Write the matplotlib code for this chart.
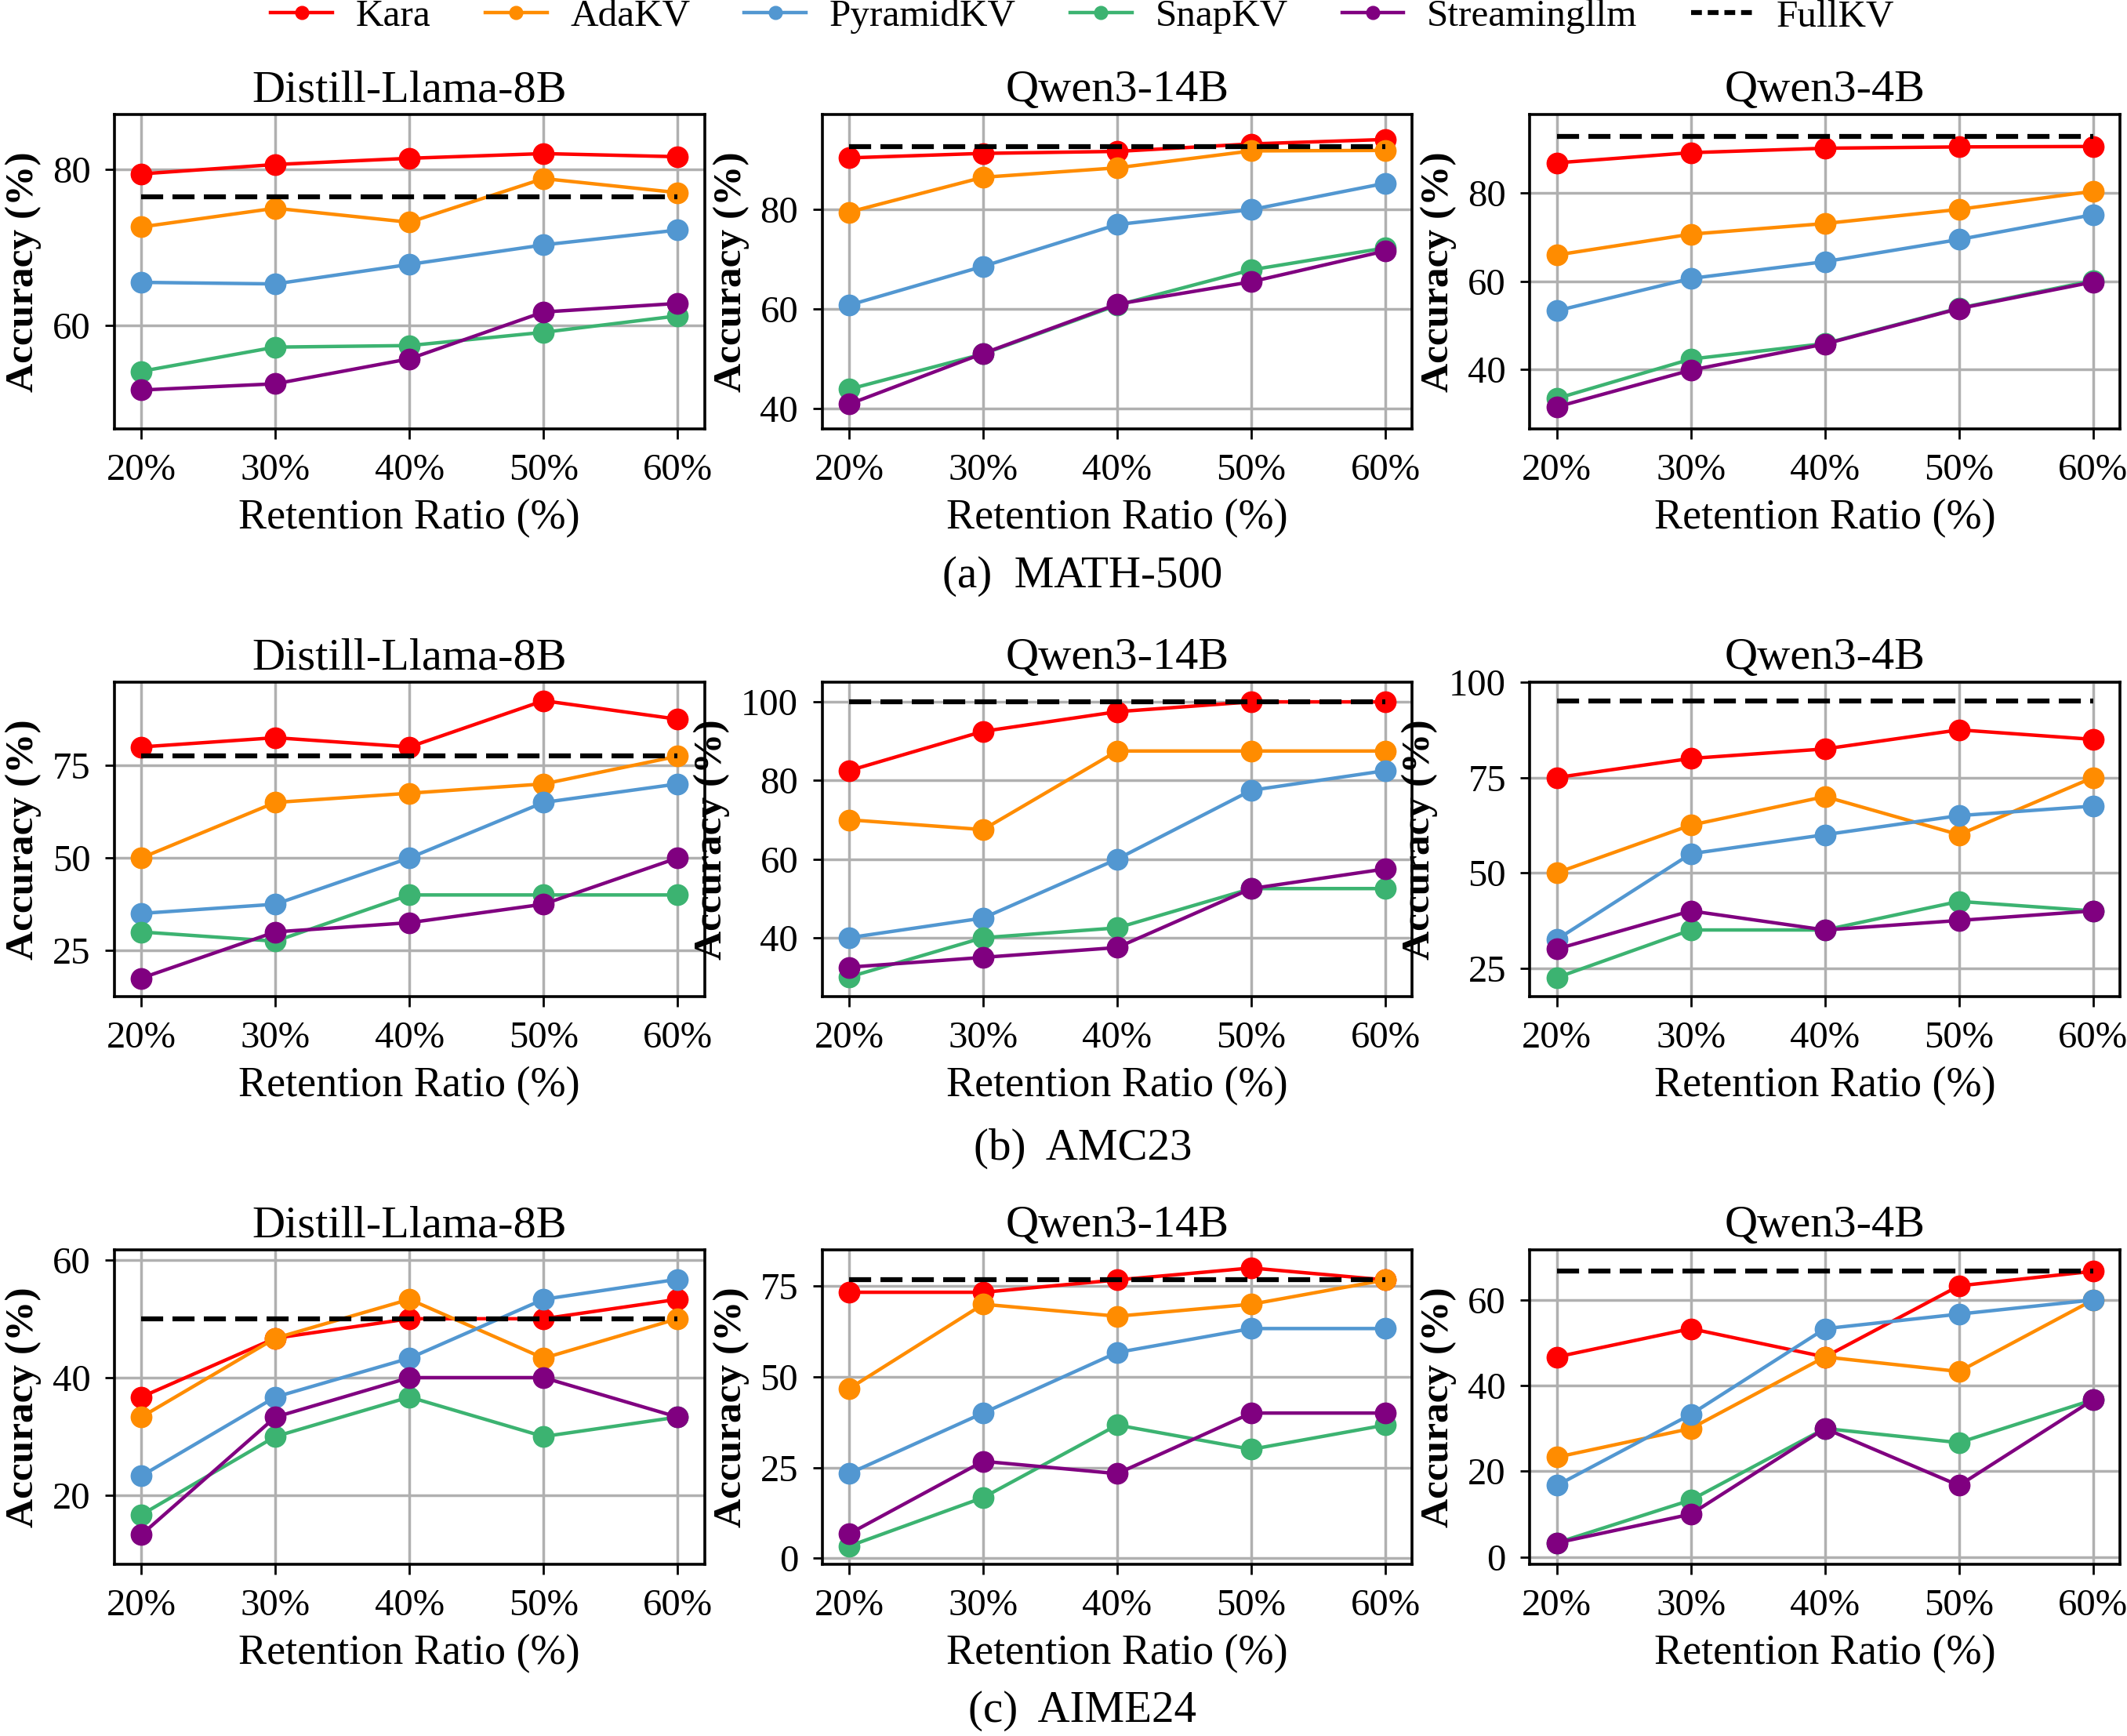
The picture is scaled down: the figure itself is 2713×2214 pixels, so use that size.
import matplotlib
matplotlib.use("Agg")
import matplotlib.pyplot as plt
from matplotlib.lines import Line2D

plt.rcParams['font.family'] = ['Liberation Serif', 'DejaVu Serif']

# ---------------- data ----------------
ratios = [20, 30, 40, 50, 60]
ratio_labels = ["20%", "30%", "40%", "50%", "60%"]
models = ["Distill-Llama-8B", "Qwen3-14B", "Qwen3-4B"]
benchmarks = ["(a)  MATH-500", "(b)  AMC23", "(c)  AIME24"]
methods = ["Kara", "AdaKV", "PyramidKV", "SnapKV", "Streamingllm"]
colors = ["#ff0000", "#ff8c00", "#5297d1", "#3cb371", "#800080"]

# MATH-500
math_llama8b = {
    "Kara":         [79.4, 80.6, 81.4, 82.0, 81.6],
    "AdaKV":        [72.6, 75.0, 73.2, 78.8, 77.0],
    "PyramidKV":    [65.5, 65.3, 67.8, 70.3, 72.2],
    "SnapKV":       [54.1, 57.2, 57.4, 59.1, 61.2],
    "Streamingllm": [51.7, 52.5, 55.7, 61.7, 62.8],
}
math_llama8b_full = 76.5
math_qwen14b = {
    "Kara":         [90.4, 91.3, 91.7, 93.2, 94.1],
    "AdaKV":        [79.5, 86.5, 88.4, 91.8, 91.9],
    "PyramidKV":    [60.8, 68.6, 77.0, 80.0, 85.3],
    "SnapKV":       [43.9, 51.0, 60.8, 67.9, 72.3],
    "Streamingllm": [40.9, 51.1, 61.0, 65.5, 71.7],
}
math_qwen14b_full = 92.6
math_qwen4b = {
    "Kara":         [86.7, 89.0, 90.0, 90.3, 90.4],
    "AdaKV":        [65.9, 70.6, 73.0, 76.2, 80.3],
    "PyramidKV":    [53.3, 60.6, 64.4, 69.4, 75.0],
    "SnapKV":       [33.5, 42.4, 45.9, 53.9, 60.1],
    "Streamingllm": [31.6, 39.9, 45.8, 53.8, 59.8],
}
math_qwen4b_full = 92.6

# AMC23
amc_llama8b = {
    "Kara":         [80.0, 82.5, 80.0, 92.5, 87.5],
    "AdaKV":        [50.0, 65.0, 67.5, 70.0, 77.5],
    "PyramidKV":    [35.0, 37.5, 50.0, 65.0, 70.0],
    "SnapKV":       [30.0, 27.5, 40.0, 40.0, 40.0],
    "Streamingllm": [17.5, 30.0, 32.5, 37.5, 50.0],
}
amc_llama8b_full = 77.5
amc_qwen14b = {
    "Kara":         [82.5, 92.5, 97.5, 100.0, 100.0],
    "AdaKV":        [70.0, 67.5, 87.5, 87.5, 87.5],
    "PyramidKV":    [40.0, 45.0, 60.0, 77.5, 82.5],
    "SnapKV":       [30.0, 40.0, 42.5, 52.5, 52.5],
    "Streamingllm": [32.5, 35.0, 37.5, 52.5, 57.5],
}
amc_qwen14b_full = 100.0
amc_qwen4b = {
    "Kara":         [75.0, 80.0, 82.5, 87.5, 85.0],
    "AdaKV":        [50.0, 62.5, 70.0, 60.0, 75.0],
    "PyramidKV":    [32.5, 55.0, 60.0, 65.0, 67.5],
    "SnapKV":       [22.5, 35.0, 35.0, 42.5, 40.0],
    "Streamingllm": [30.0, 40.0, 35.0, 37.5, 40.0],
}
amc_qwen4b_full = 95.0

# AIME24
aime_llama8b = {
    "Kara":         [36.7, 46.7, 50.0, 50.0, 53.3],
    "AdaKV":        [33.3, 46.7, 53.3, 43.3, 50.0],
    "PyramidKV":    [23.3, 36.7, 43.3, 53.3, 56.7],
    "SnapKV":       [16.7, 30.0, 36.7, 30.0, 33.3],
    "Streamingllm": [13.3, 33.3, 40.0, 40.0, 33.3],
}
aime_llama8b_full = 50.0
aime_qwen14b = {
    "Kara":         [73.3, 73.3, 76.7, 80.0, 76.7],
    "AdaKV":        [46.7, 70.0, 66.7, 70.0, 76.7],
    "PyramidKV":    [23.3, 40.0, 56.7, 63.3, 63.3],
    "SnapKV":       [3.3, 16.7, 36.7, 30.0, 36.7],
    "Streamingllm": [6.7, 26.7, 23.3, 40.0, 40.0],
}
aime_qwen14b_full = 76.7
aime_qwen4b = {
    "Kara":         [46.7, 53.3, 46.7, 63.3, 66.7],
    "AdaKV":        [23.3, 30.0, 46.7, 43.3, 60.0],
    "PyramidKV":    [16.7, 33.3, 53.3, 56.7, 60.0],
    "SnapKV":       [3.3, 13.3, 30.0, 26.7, 36.7],
    "Streamingllm": [3.3, 10.0, 30.0, 16.7, 36.7],
}
aime_qwen4b_full = 66.7

# y tick values per panel
yticks = [
    [[60, 80], [40, 60, 80], [40, 60, 80]],
    [[25, 50, 75], [40, 60, 80, 100], [25, 50, 75, 100]],
    [[20, 40, 60], [0, 25, 50, 75], [0, 20, 40, 60]],
]

panels = [
    [(math_llama8b, math_llama8b_full), (math_qwen14b, math_qwen14b_full), (math_qwen4b, math_qwen4b_full)],
    [(amc_llama8b, amc_llama8b_full), (amc_qwen14b, amc_qwen14b_full), (amc_qwen4b, amc_qwen4b_full)],
    [(aime_llama8b, aime_llama8b_full), (aime_qwen14b, aime_qwen14b_full), (aime_qwen4b, aime_qwen4b_full)],
]

# ---------------- figure ----------------
fig, axes = plt.subplots(3, 3, figsize=(27.13, 22.14), dpi=100)
fig.subplots_adjust(left=0.0538, right=0.9967, top=0.934, bottom=0.0989,
                    wspace=0.1995, hspace=0.805)

FS_TICK = 35
FS_LABEL = 39
FS_TITLE = 42
LW = 3.2
MS = 19

for r in range(3):
    for c in range(3):
        ax = axes[r][c]
        data, full = panels[r][c]
        allv = [full]
        for m, col in zip(methods, colors):
            ax.plot(ratios, data[m], color=col, lw=LW, marker='o', ms=MS,
                    mec=col, mfc=col, zorder=3)
            allv += data[m]
        ax.plot([ratios[0], ratios[-1]], [full, full], color='black', lw=4.5,
                linestyle=(0, (4.5, 1.9)), zorder=4)
        ax.set_ylim(min(allv) - 5, max(allv) + 5)
        ax.set_xticks(ratios)
        ax.set_xticklabels(ratio_labels)
        ax.set_yticks(yticks[r][c])
        ax.grid(True, color='#b0b0b0', lw=2.5, zorder=0)
        ax.set_axisbelow(True)
        ax.tick_params(axis='both', labelsize=FS_TICK, length=9, width=2)
        ax.tick_params(axis='x', pad=13)
        ax.tick_params(axis='y', pad=13)
        for s in ax.spines.values():
            s.set_linewidth(2.6)
        ax.set_title(models[c], fontsize=FS_TITLE, pad=12)
        ax.set_xlabel("Retention Ratio (%)", fontsize=FS_LABEL, labelpad=10)
        ax.set_ylabel("Accuracy (%)", fontsize=37, fontweight='bold', labelpad=10)

# subcaptions
sub_y = [0.668, 0.3385, 0.0145]
for b, yy in zip(benchmarks, sub_y):
    fig.text(0.509, yy, b, ha='center', va='center', fontsize=41)

# legend
handles = [Line2D([0], [0], color=col, lw=LW, marker='o', ms=12, mec=col, mfc=col)
           for col in colors]
handles.append(Line2D([0], [0], color='black', lw=4.5, linestyle=(0, (2.2, 1.2))))
fig.legend(handles, methods + ["FullKV"], loc='center', ncol=6,
           bbox_to_anchor=(0.509, 1 - 21 / 2214), frameon=False, fontsize=35.5,
           handlelength=1.6, handletextpad=0.6, columnspacing=1.4,
           borderaxespad=0, borderpad=0)

fig.savefig("out.png", dpi=100)
